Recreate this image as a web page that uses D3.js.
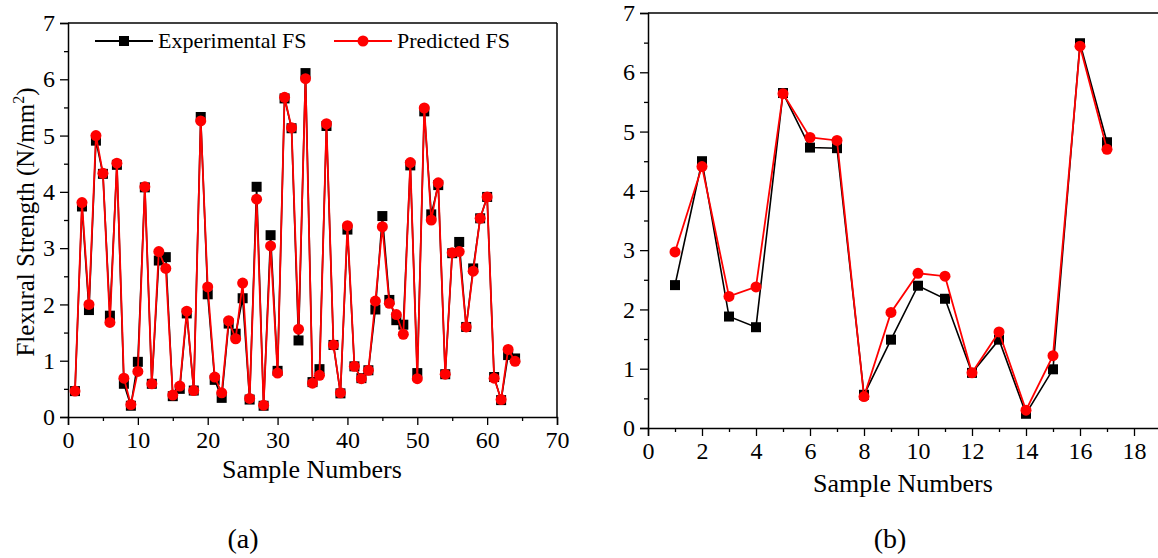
<!DOCTYPE html>
<html><head><meta charset="utf-8">
<script src="https://cdn.jsdelivr.net/npm/d3@7"></script>
<style>body{margin:0;background:#fff}svg{display:block}svg text{font-family:"Liberation Serif","Times New Roman","DejaVu Serif",serif}</style>
</head><body>
<svg id="chart" width="1158" height="558"></svg>
<script>
// Panel (a) data
const samplesA = d3.range(1, 65);
const expA = [0.46,3.74,1.90,4.91,4.32,1.80,4.48,0.59,0.20,0.98,4.08,0.59,2.78,2.84,0.37,0.50,1.84,0.47,5.33,2.18,
  0.66,0.34,1.66,1.48,2.11,0.31,4.09,0.20,3.23,0.82,5.66,5.13,1.36,6.11,0.62,0.85,5.17,1.28,0.42,3.33,
  0.90,0.69,0.83,1.91,3.57,2.08,1.72,1.64,4.47,0.78,5.43,3.60,4.12,0.76,2.91,3.11,1.60,2.64,3.53,3.91,
  0.71,0.30,1.10,1.04];
const predA = [0.46,3.81,2.00,5.00,4.33,1.68,4.51,0.69,0.22,0.81,4.09,0.59,2.94,2.64,0.39,0.55,1.88,0.47,5.26,2.31,
  0.71,0.43,1.71,1.39,2.38,0.33,3.87,0.21,3.04,0.78,5.68,5.14,1.56,6.01,0.60,0.74,5.21,1.28,0.43,3.40,
  0.90,0.68,0.83,2.06,3.38,2.02,1.82,1.47,4.52,0.68,5.49,3.50,4.16,0.76,2.92,2.94,1.60,2.59,3.53,3.91,
  0.69,0.31,1.20,0.99];
// Panel (b) data
const samplesB = d3.range(1, 18);
const expB = [2.41,4.50,1.88,1.70,5.65,4.73,4.72,0.56,1.49,2.40,2.18,0.93,1.49,0.24,0.99,6.49,4.82];
const predB = [2.97,4.41,2.22,2.38,5.64,4.90,4.85,0.53,1.95,2.61,2.56,0.93,1.62,0.30,1.22,6.44,4.70];

const yTicks = [0,1,2,3,4,5,6,7];
const xTicksA = [0,10,20,30,40,50,60,70];
const xTicksB = [0,2,4,6,8,10,12,14,16,18];
const legendLabels = ["Experimental FS", "Predicted FS"];
const yTitle = "Flexural Strength (N/mm";
const xTitle = "Sample Numbers";

const svg = d3.select("#chart");
const RED = "#ff0000";

function panel(cfg) {
  const g = svg.append("g");
  const x = d3.scaleLinear().domain(cfg.xDomain).range([cfg.x0, cfg.x1]);
  const y = d3.scaleLinear().domain([0, 7]).range([cfg.y0, cfg.y1]);

  // frame (top / right)
  g.append("line").attr("x1", cfg.x0).attr("x2", Math.min(cfg.x1, 1158)).attr("y1", cfg.y1).attr("y2", cfg.y1)
    .attr("stroke", "#000").attr("stroke-width", 1.5);
  if (cfg.x1 <= 1158) {
    g.append("line").attr("x1", cfg.x1).attr("x2", cfg.x1).attr("y1", cfg.y1).attr("y2", cfg.y0)
      .attr("stroke", "#000").attr("stroke-width", 1.5);
  }

  // y axis
  g.append("g").attr("transform", `translate(${cfg.x0},0)`)
    .call(d3.axisLeft(y).tickValues(yTicks).tickFormat(d3.format("d")).tickSize(8).tickPadding(5));
  g.append("g").attr("transform", `translate(${cfg.x0},0)`)
    .call(d3.axisLeft(y).tickValues(d3.range(0.5, 7, 1)).tickFormat("").tickSize(4))
    .call(s => s.select(".domain").remove());
  // x axis
  g.append("g").attr("transform", `translate(0,${cfg.y0})`)
    .call(d3.axisBottom(x).tickValues(cfg.xTicks).tickFormat(d3.format("d")).tickSize(8).tickPadding(6));
  g.append("g").attr("transform", `translate(0,${cfg.y0})`)
    .call(d3.axisBottom(x).tickValues(cfg.xMinor).tickFormat("").tickSize(4))
    .call(s => s.select(".domain").remove());
  g.selectAll(".domain").attr("stroke-width", 1.5);
  g.selectAll(".tick line").attr("stroke-width", 1.3);
  g.selectAll(".tick text").attr("font-family", null).attr("font-size", 24).attr("fill", "#000");

  const lineGen = d3.line().x(d => x(d[0])).y(d => y(d[1]));
  const expPts = cfg.samples.map((s, i) => [s, cfg.exp[i]]);
  const predPts = cfg.samples.map((s, i) => [s, cfg.pred[i]]);

  g.append("path").datum(expPts).attr("d", lineGen).attr("fill", "none").attr("stroke", "#000").attr("stroke-width", 1.6);
  g.selectAll(".sq").data(expPts).enter().append("rect")
    .attr("x", d => x(d[0]) - 5).attr("y", d => y(d[1]) - 5).attr("width", 10).attr("height", 10).attr("fill", "#000");
  g.append("path").datum(predPts).attr("d", lineGen).attr("fill", "none").attr("stroke", RED).attr("stroke-width", 1.8);
  g.selectAll(".ci").data(predPts).enter().append("circle")
    .attr("cx", d => x(d[0])).attr("cy", d => y(d[1])).attr("r", 5.5).attr("fill", RED);

  // x title
  g.append("text").attr("x", cfg.xTitleX).attr("y", cfg.xTitleY).attr("text-anchor", "middle")
    .attr("font-size", 26).text(xTitle);
  // panel label
  g.append("text").attr("x", cfg.labelX).attr("y", 548).attr("text-anchor", "middle")
    .attr("font-size", 28).text(cfg.label);
  return {g, x, y};
}

panel({x0: 68, x1: 557, y0: 417, y1: 23, xDomain: [0, 70], xTicks: xTicksA, xMinor: d3.range(5, 70, 10),
  samples: samplesA, exp: expA, pred: predA, xTitleX: 312, xTitleY: 478, label: "(a)", labelX: 243});
panel({x0: 648, x1: 1161, y0: 428, y1: 13, xDomain: [0, 19], xTicks: xTicksB, xMinor: d3.range(1, 19, 2),
  samples: samplesB, exp: expB, pred: predB, xTitleX: 903, xTitleY: 492, label: "(b)", labelX: 890});

// y title panel a
const yt = svg.append("text").attr("transform", "translate(34,222) rotate(-90)").attr("text-anchor", "middle")
  .attr("font-size", 25);
yt.append("tspan").text(yTitle);
yt.append("tspan").attr("font-size", 16).attr("dy", -10).text("2");
yt.append("tspan").attr("dy", 10).text(")");

// legend panel a
const lg = svg.append("g");
const legItems = [
  {x: 95, label: legendLabels[0], color: "#000", shape: "sq"},
  {x: 334, label: legendLabels[1], color: RED, shape: "ci"}
];
legItems.forEach(it => {
  lg.append("line").attr("x1", it.x).attr("x2", it.x + 58).attr("y1", 41).attr("y2", 41)
    .attr("stroke", it.color).attr("stroke-width", 1.8);
  if (it.shape === "sq") lg.append("rect").attr("x", it.x + 24).attr("y", 36).attr("width", 10).attr("height", 10).attr("fill", it.color);
  else lg.append("circle").attr("cx", it.x + 29).attr("cy", 41).attr("r", 5.5).attr("fill", it.color);
  lg.append("text").attr("x", it.x + 63).attr("y", 48).attr("font-size", 22).text(it.label);
});
</script>
</body></html>
